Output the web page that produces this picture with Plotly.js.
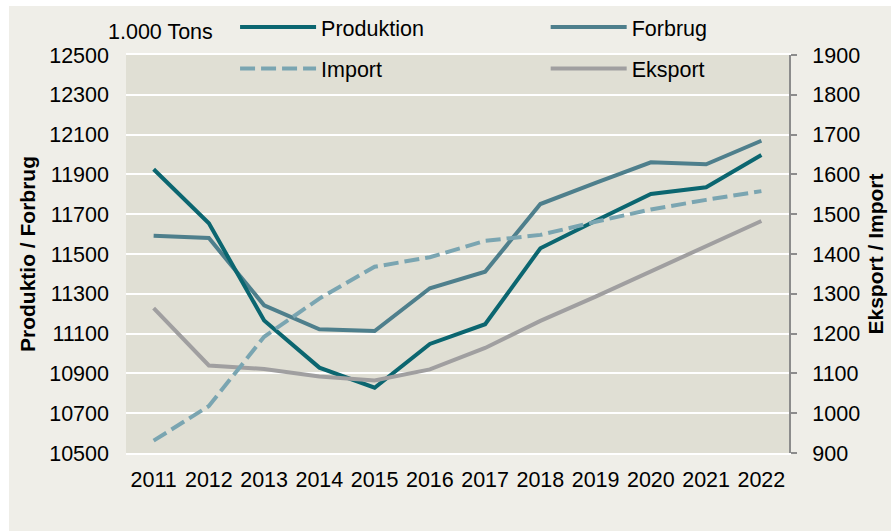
<!DOCTYPE html>
<html>
<head>
<meta charset="utf-8">
<script src="https://cdn.plot.ly/plotly-3.0.1.min.js"></script>
<style>html,body{margin:0;padding:0;background:#fff;}#chart{width:891px;height:531px;}</style>
</head>
<body>
<div id="chart"></div>
<script>
const years = ['2011','2012','2013','2014','2015','2016','2017','2018','2019','2020','2021','2022'];
const produktion = [11926, 11654, 11166, 10929, 10828, 11048, 11147, 11529, 11667, 11802, 11835, 11997];
const forbrug    = [11592, 11580, 11242, 11122, 11113, 11328, 11411, 11751, 11857, 11961, 11951, 12069];
const importData = [931, 1018, 1192, 1288, 1368, 1392, 1433, 1448, 1481, 1512, 1536, 1558];
const eksport    = [1264, 1120, 1111, 1092, 1082, 1110, 1164, 1232, 1293, 1356, 1418, 1483];
const leftTicks  = [10500, 10700, 10900, 11100, 11300, 11500, 11700, 11900, 12100, 12300, 12500];
const rightTicks = [900, 1000, 1100, 1200, 1300, 1400, 1500, 1600, 1700, 1800, 1900];

const font = 'Liberation Sans, Arial, sans-serif';
const fs = 21.5;
const traces = [
  {x: years, y: produktion, name: 'Produktion', type: 'scatter', mode: 'lines',
   line: {color: '#0B6670', width: 4}, legend: 'legend'},
  {x: years, y: forbrug, name: 'Forbrug', type: 'scatter', mode: 'lines',
   line: {color: '#4E7F8C', width: 4}, legend: 'legend2'},
  {x: years, y: importData, name: 'Import', type: 'scatter', mode: 'lines', yaxis: 'y2',
   line: {color: '#7AA5B1', width: 4, dash: '15px,6px'}, legend: 'legend3'},
  {x: years, y: eksport, name: 'Eksport', type: 'scatter', mode: 'lines', yaxis: 'y2',
   line: {color: '#A09FA0', width: 4}, legend: 'legend4'}
];
const order = [traces[3], traces[2], traces[1], traces[0]];

function lg(x, y) {
  return {x: x, y: y, xanchor: 'left', yanchor: 'middle', bgcolor: 'rgba(0,0,0,0)',
          borderwidth: 0, font: {family: font, size: fs, color: '#000'}, itemwidth: 76};
}

const layout = {
  width: 891, height: 531,
  margin: {l: 126, r: 102, t: 55, b: 78, autoexpand: false},
  paper_bgcolor: '#EFEEE8',
  plot_bgcolor: '#E0DFD4',
  font: {family: font, size: fs, color: '#000'},
  showlegend: true,
  legend: lg(0.1645, 1.07),
  legend2: lg(0.633, 1.07),
  legend3: lg(0.1645, 0.966),
  legend4: lg(0.633, 0.966),
  xaxis: {type: 'category', range: [-0.5, 11.5], showgrid: false, zeroline: false,
          showline: true, mirror: true,
          linecolor: '#FFFFFF', linewidth: 2, ticks: '', ticklabelstandoff: 6,
          tickfont: {family: font, size: fs, color: '#000'}},
  yaxis: {range: [10500, 12500], tickvals: leftTicks, ticktext: leftTicks.map(String),
          showgrid: true, gridcolor: '#FFFFFF', gridwidth: 2, zeroline: false,
          showline: false, ticks: '', ticklabelstandoff: 16,
          tickfont: {family: font, size: fs, color: '#000'},
          title: {text: 'Produktio / Forbrug', standoff: 7,
                  font: {family: font, size: 21, color: '#000', weight: 'bold'}}},
  yaxis2: {range: [900, 1900], tickvals: rightTicks, ticktext: rightTicks.map(String),
           overlaying: 'y', side: 'right', showgrid: false, zeroline: false,
           showline: true, linecolor: '#8C8C8C', linewidth: 2,
           ticks: 'outside', ticklen: 6, tickcolor: '#8C8C8C', tickwidth: 2,
           ticklabelstandoff: 11,
           tickfont: {family: font, size: fs, color: '#000'},
           title: {text: 'Eksport / Import', standoff: 9,
                   font: {family: font, size: 21, color: '#000', weight: 'bold'}}},
  annotations: [
    {text: '1.000 Tons', xref: 'paper', yref: 'paper', x: -0.03, y: 1.058,
     xanchor: 'left', yanchor: 'middle', showarrow: false,
     font: {family: font, size: fs, color: '#000'}}
  ],
  shapes: [
    {type: 'rect', xref: 'paper', yref: 'paper', x0: -0.2, x1: 1.2, y0: 1.123, y1: 1.2,
     fillcolor: '#FFFFFF', line: {width: 0}},
    {type: 'rect', xref: 'paper', yref: 'paper', x0: -0.2, x1: -0.1765, y0: -0.3, y1: 1.2,
     fillcolor: '#FFFFFF', line: {width: 0}}
  ]
};

Plotly.newPlot('chart', order, layout, {displayModeBar: false, staticPlot: true});
</script>
</body>
</html>
